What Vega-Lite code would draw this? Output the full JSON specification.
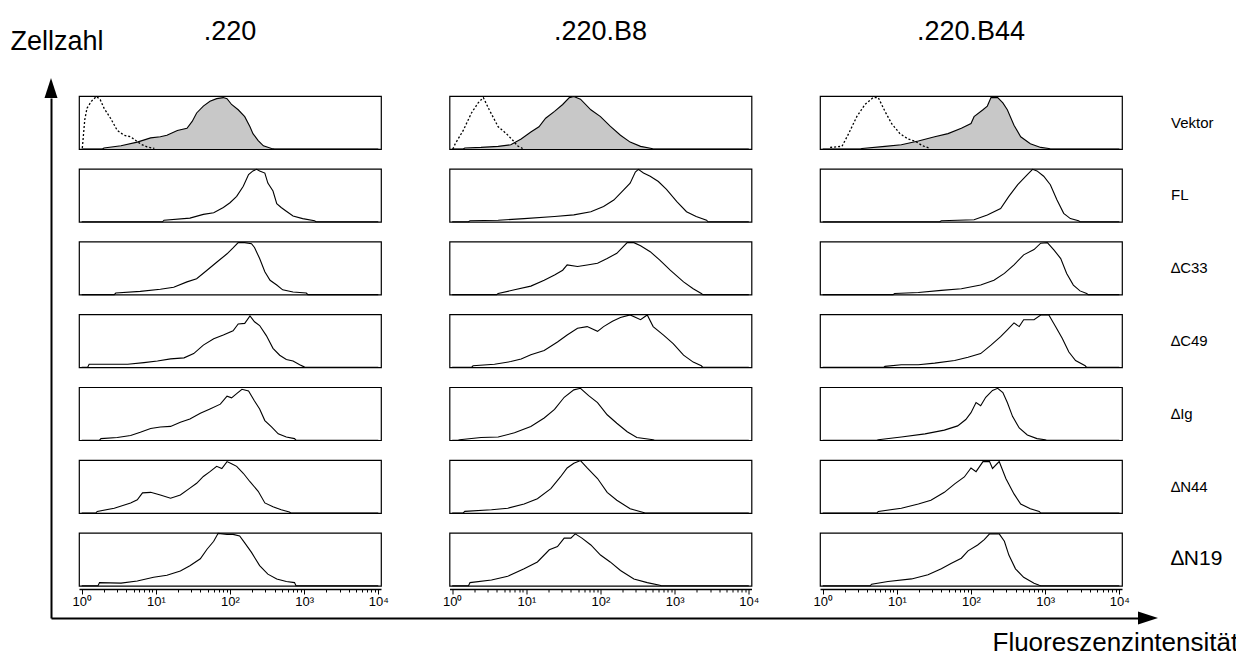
{
  "$schema": "https://vega.github.io/schema/vega-lite/v6.json",
  "background": "white",
  "padding": {"left": 10, "top": 18, "right": 0, "bottom": 0},
  "config": {"font": "Liberation Sans", "view": {"stroke": "black", "strokeWidth": 1.2}},
  "bounds": "flush",
  "spacing": 28,
  "hconcat": [
    {
      "bounds": "flush",
      "spacing": 0,
      "vconcat": [
        {"width": 10, "height": 2, "view": {"stroke": null}, "data": {"values": []}, "mark": "point"},
        {
          "width": 1087,
          "height": 520,
          "view": {"stroke": null},
          "data": {"values": [{"ax": 0, "ay": 1, "h": "y"}, {"ax": 1, "ay": 0, "h": "x"}]},
          "mark": {"type": "point", "filled": true, "fill": "black", "strokeWidth": 0, "opacity": 1, "size": 400},
          "encoding": {
            "x": {"field": "ax", "type": "quantitative", "scale": {"domain": [0, 1], "nice": false, "zero": false},
              "axis": {"orient": "bottom", "domain": true, "domainColor": "black", "domainWidth": 2, "ticks": false, "labels": false, "grid": false,
                "title": "Fluoreszenzintensität", "titleFontSize": 26, "titleFontWeight": "normal", "titleColor": "black",
                "titleAlign": "left", "titleBaseline": "alphabetic", "titleX": 941, "titleY": 32}},
            "y": {"field": "ay", "type": "quantitative", "scale": {"domain": [0, 1], "nice": false, "zero": false},
              "axis": {"orient": "left", "domain": true, "domainColor": "black", "domainWidth": 2, "ticks": false, "labels": false, "grid": false,
                "title": "Zellzahl", "titleFontSize": 27, "titleFontWeight": "normal", "titleColor": "black", "titleAngle": 0,
                "titleAlign": "left", "titleBaseline": "alphabetic", "titleX": -41, "titleY": -49}},
            "shape": {"field": "h", "type": "nominal", "scale": {"domain": ["y", "x"], "range": ["M0,-2L0.65,0L-0.65,0Z", "M2,0L0,-0.65L0,0.65Z"]}, "legend": null}
          }
        }
      ]
    },
    {
      "data": {"values": [
        {"c":".220","r":"Vektor","s":"n","x":1.02,"y":0.02},{"c":".220","r":"Vektor","s":"n","x":1.10,"y":0.55},{"c":".220","r":"Vektor","s":"n","x":1.18,"y":0.77},{"c":".220","r":"Vektor","s":"n","x":1.35,"y":0.9},{"c":".220","r":"Vektor","s":"n","x":1.58,"y":0.99},{"c":".220","r":"Vektor","s":"n","x":1.78,"y":0.93},{"c":".220","r":"Vektor","s":"n","x":2.0,"y":0.77},{"c":".220","r":"Vektor","s":"n","x":2.45,"y":0.58},{"c":".220","r":"Vektor","s":"n","x":3.02,"y":0.35},{"c":".220","r":"Vektor","s":"n","x":3.72,"y":0.26},{"c":".220","r":"Vektor","s":"n","x":4.57,"y":0.23},{"c":".220","r":"Vektor","s":"n","x":5.37,"y":0.16},{"c":".220","r":"Vektor","s":"n","x":6.31,"y":0.09},{"c":".220","r":"Vektor","s":"n","x":7.59,"y":0.04},{"c":".220","r":"Vektor","s":"n","x":9.55,"y":0.01},
        {"c":".220","r":"Vektor","s":"p","x":1,"y":0},{"c":".220","r":"Vektor","s":"p","x":1.91,"y":0},{"c":".220","r":"Vektor","s":"p","x":2.0,"y":0.02},{"c":".220","r":"Vektor","s":"p","x":3.39,"y":0.06},{"c":".220","r":"Vektor","s":"p","x":5.62,"y":0.13},{"c":".220","r":"Vektor","s":"p","x":8.51,"y":0.21},{"c":".220","r":"Vektor","s":"p","x":11.5,"y":0.23},{"c":".220","r":"Vektor","s":"p","x":14.1,"y":0.26},{"c":".220","r":"Vektor","s":"p","x":19.5,"y":0.35},{"c":".220","r":"Vektor","s":"p","x":26.3,"y":0.39},{"c":".220","r":"Vektor","s":"p","x":30.9,"y":0.52},{"c":".220","r":"Vektor","s":"p","x":35.5,"y":0.68},{"c":".220","r":"Vektor","s":"p","x":43.7,"y":0.81},{"c":".220","r":"Vektor","s":"p","x":53.7,"y":0.9},{"c":".220","r":"Vektor","s":"p","x":66.1,"y":0.95},{"c":".220","r":"Vektor","s":"p","x":81.3,"y":0.97},{"c":".220","r":"Vektor","s":"p","x":91.2,"y":0.95},{"c":".220","r":"Vektor","s":"p","x":105,"y":0.84},{"c":".220","r":"Vektor","s":"p","x":129,"y":0.74},{"c":".220","r":"Vektor","s":"p","x":158,"y":0.61},{"c":".220","r":"Vektor","s":"p","x":186,"y":0.42},{"c":".220","r":"Vektor","s":"p","x":204,"y":0.29},{"c":".220","r":"Vektor","s":"p","x":240,"y":0.16},{"c":".220","r":"Vektor","s":"p","x":282,"y":0.06},{"c":".220","r":"Vektor","s":"p","x":363,"y":0.01},{"c":".220","r":"Vektor","s":"p","x":398,"y":0},{"c":".220","r":"Vektor","s":"p","x":10000,"y":0},
        {"c":".220","r":"FL","s":"p","x":1,"y":0},{"c":".220","r":"FL","s":"p","x":12.3,"y":0},{"c":".220","r":"FL","s":"p","x":12.9,"y":0.03},{"c":".220","r":"FL","s":"p","x":28.8,"y":0.07},{"c":".220","r":"FL","s":"p","x":43.7,"y":0.14},{"c":".220","r":"FL","s":"p","x":60.3,"y":0.17},{"c":".220","r":"FL","s":"p","x":81.3,"y":0.27},{"c":".220","r":"FL","s":"p","x":100,"y":0.36},{"c":".220","r":"FL","s":"p","x":123,"y":0.48},{"c":".220","r":"FL","s":"p","x":151,"y":0.67},{"c":".220","r":"FL","s":"p","x":178,"y":0.89},{"c":".220","r":"FL","s":"p","x":204,"y":0.96},{"c":".220","r":"FL","s":"p","x":229,"y":0.99},{"c":".220","r":"FL","s":"p","x":251,"y":0.96},{"c":".220","r":"FL","s":"p","x":295,"y":0.92},{"c":".220","r":"FL","s":"p","x":324,"y":0.73},{"c":".220","r":"FL","s":"p","x":380,"y":0.58},{"c":".220","r":"FL","s":"p","x":427,"y":0.34},{"c":".220","r":"FL","s":"p","x":490,"y":0.27},{"c":".220","r":"FL","s":"p","x":575,"y":0.2},{"c":".220","r":"FL","s":"p","x":708,"y":0.11},{"c":".220","r":"FL","s":"p","x":955,"y":0.06},{"c":".220","r":"FL","s":"p","x":1380,"y":0.02},{"c":".220","r":"FL","s":"p","x":1445,"y":0},{"c":".220","r":"FL","s":"p","x":10000,"y":0},
        {"c":".220","r":"∆C33","s":"p","x":1,"y":0},{"c":".220","r":"∆C33","s":"p","x":2.75,"y":0},{"c":".220","r":"∆C33","s":"p","x":2.88,"y":0.03},{"c":".220","r":"∆C33","s":"p","x":6.17,"y":0.06},{"c":".220","r":"∆C33","s":"p","x":11.5,"y":0.1},{"c":".220","r":"∆C33","s":"p","x":17.4,"y":0.14},{"c":".220","r":"∆C33","s":"p","x":26.3,"y":0.24},{"c":".220","r":"∆C33","s":"p","x":35.5,"y":0.3},{"c":".220","r":"∆C33","s":"p","x":49.0,"y":0.46},{"c":".220","r":"∆C33","s":"p","x":66.1,"y":0.61},{"c":".220","r":"∆C33","s":"p","x":91.2,"y":0.77},{"c":".220","r":"∆C33","s":"p","x":110,"y":0.88},{"c":".220","r":"∆C33","s":"p","x":129,"y":0.98},{"c":".220","r":"∆C33","s":"p","x":158,"y":0.98},{"c":".220","r":"∆C33","s":"p","x":195,"y":0.96},{"c":".220","r":"∆C33","s":"p","x":214,"y":0.89},{"c":".220","r":"∆C33","s":"p","x":251,"y":0.68},{"c":".220","r":"∆C33","s":"p","x":295,"y":0.43},{"c":".220","r":"∆C33","s":"p","x":347,"y":0.27},{"c":".220","r":"∆C33","s":"p","x":427,"y":0.18},{"c":".220","r":"∆C33","s":"p","x":513,"y":0.09},{"c":".220","r":"∆C33","s":"p","x":708,"y":0.05},{"c":".220","r":"∆C33","s":"p","x":1070,"y":0.03},{"c":".220","r":"∆C33","s":"p","x":1122,"y":0},{"c":".220","r":"∆C33","s":"p","x":10000,"y":0},
        {"c":".220","r":"∆C49","s":"p","x":1,"y":0},{"c":".220","r":"∆C49","s":"p","x":1.2,"y":0},{"c":".220","r":"∆C49","s":"p","x":1.26,"y":0.06},{"c":".220","r":"∆C49","s":"p","x":2.45,"y":0.06},{"c":".220","r":"∆C49","s":"p","x":4.17,"y":0.06},{"c":".220","r":"∆C49","s":"p","x":6.92,"y":0.09},{"c":".220","r":"∆C49","s":"p","x":10.5,"y":0.12},{"c":".220","r":"∆C49","s":"p","x":15.8,"y":0.16},{"c":".220","r":"∆C49","s":"p","x":24.0,"y":0.18},{"c":".220","r":"∆C49","s":"p","x":32.4,"y":0.26},{"c":".220","r":"∆C49","s":"p","x":43.7,"y":0.42},{"c":".220","r":"∆C49","s":"p","x":60.3,"y":0.54},{"c":".220","r":"∆C49","s":"p","x":81.3,"y":0.61},{"c":".220","r":"∆C49","s":"p","x":110,"y":0.69},{"c":".220","r":"∆C49","s":"p","x":129,"y":0.82},{"c":".220","r":"∆C49","s":"p","x":158,"y":0.83},{"c":".220","r":"∆C49","s":"p","x":186,"y":0.97},{"c":".220","r":"∆C49","s":"p","x":214,"y":0.86},{"c":".220","r":"∆C49","s":"p","x":251,"y":0.79},{"c":".220","r":"∆C49","s":"p","x":309,"y":0.6},{"c":".220","r":"∆C49","s":"p","x":380,"y":0.36},{"c":".220","r":"∆C49","s":"p","x":468,"y":0.23},{"c":".220","r":"∆C49","s":"p","x":575,"y":0.15},{"c":".220","r":"∆C49","s":"p","x":708,"y":0.12},{"c":".220","r":"∆C49","s":"p","x":871,"y":0.05},{"c":".220","r":"∆C49","s":"p","x":1000,"y":0.01},{"c":".220","r":"∆C49","s":"p","x":1047,"y":0},{"c":".220","r":"∆C49","s":"p","x":10000,"y":0},
        {"c":".220","r":"∆Ig","s":"p","x":1,"y":0},{"c":".220","r":"∆Ig","s":"p","x":1.74,"y":0},{"c":".220","r":"∆Ig","s":"p","x":1.82,"y":0.03},{"c":".220","r":"∆Ig","s":"p","x":3.02,"y":0.05},{"c":".220","r":"∆Ig","s":"p","x":4.57,"y":0.09},{"c":".220","r":"∆Ig","s":"p","x":6.17,"y":0.15},{"c":".220","r":"∆Ig","s":"p","x":8.51,"y":0.22},{"c":".220","r":"∆Ig","s":"p","x":11.5,"y":0.25},{"c":".220","r":"∆Ig","s":"p","x":15.8,"y":0.26},{"c":".220","r":"∆Ig","s":"p","x":21.4,"y":0.34},{"c":".220","r":"∆Ig","s":"p","x":28.8,"y":0.4},{"c":".220","r":"∆Ig","s":"p","x":39.8,"y":0.51},{"c":".220","r":"∆Ig","s":"p","x":53.7,"y":0.59},{"c":".220","r":"∆Ig","s":"p","x":74.1,"y":0.68},{"c":".220","r":"∆Ig","s":"p","x":91.2,"y":0.83},{"c":".220","r":"∆Ig","s":"p","x":105,"y":0.8},{"c":".220","r":"∆Ig","s":"p","x":123,"y":0.88},{"c":".220","r":"∆Ig","s":"p","x":145,"y":0.96},{"c":".220","r":"∆Ig","s":"p","x":178,"y":0.93},{"c":".220","r":"∆Ig","s":"p","x":214,"y":0.74},{"c":".220","r":"∆Ig","s":"p","x":251,"y":0.59},{"c":".220","r":"∆Ig","s":"p","x":295,"y":0.37},{"c":".220","r":"∆Ig","s":"p","x":363,"y":0.25},{"c":".220","r":"∆Ig","s":"p","x":447,"y":0.12},{"c":".220","r":"∆Ig","s":"p","x":575,"y":0.06},{"c":".220","r":"∆Ig","s":"p","x":741,"y":0.03},{"c":".220","r":"∆Ig","s":"p","x":776,"y":0},{"c":".220","r":"∆Ig","s":"p","x":10000,"y":0},
        {"c":".220","r":"∆N44","s":"p","x":1,"y":0},{"c":".220","r":"∆N44","s":"p","x":1.55,"y":0},{"c":".220","r":"∆N44","s":"p","x":1.62,"y":0.03},{"c":".220","r":"∆N44","s":"p","x":2.75,"y":0.09},{"c":".220","r":"∆N44","s":"p","x":4.57,"y":0.19},{"c":".220","r":"∆N44","s":"p","x":5.62,"y":0.25},{"c":".220","r":"∆N44","s":"p","x":6.61,"y":0.38},{"c":".220","r":"∆N44","s":"p","x":8.51,"y":0.39},{"c":".220","r":"∆N44","s":"p","x":11.5,"y":0.34},{"c":".220","r":"∆N44","s":"p","x":15.8,"y":0.28},{"c":".220","r":"∆N44","s":"p","x":21.4,"y":0.34},{"c":".220","r":"∆N44","s":"p","x":28.8,"y":0.47},{"c":".220","r":"∆N44","s":"p","x":35.5,"y":0.56},{"c":".220","r":"∆N44","s":"p","x":43.7,"y":0.69},{"c":".220","r":"∆N44","s":"p","x":53.7,"y":0.78},{"c":".220","r":"∆N44","s":"p","x":66.1,"y":0.88},{"c":".220","r":"∆N44","s":"p","x":77.6,"y":0.84},{"c":".220","r":"∆N44","s":"p","x":91.2,"y":0.97},{"c":".220","r":"∆N44","s":"p","x":105,"y":0.93},{"c":".220","r":"∆N44","s":"p","x":123,"y":0.88},{"c":".220","r":"∆N44","s":"p","x":151,"y":0.75},{"c":".220","r":"∆N44","s":"p","x":186,"y":0.59},{"c":".220","r":"∆N44","s":"p","x":240,"y":0.41},{"c":".220","r":"∆N44","s":"p","x":295,"y":0.19},{"c":".220","r":"∆N44","s":"p","x":380,"y":0.12},{"c":".220","r":"∆N44","s":"p","x":490,"y":0.06},{"c":".220","r":"∆N44","s":"p","x":631,"y":0.02},{"c":".220","r":"∆N44","s":"p","x":661,"y":0},{"c":".220","r":"∆N44","s":"p","x":10000,"y":0},
        {"c":".220","r":"∆N19","s":"p","x":1,"y":0},{"c":".220","r":"∆N19","s":"p","x":1.66,"y":0},{"c":".220","r":"∆N19","s":"p","x":1.74,"y":0.06},{"c":".220","r":"∆N19","s":"p","x":3.39,"y":0.05},{"c":".220","r":"∆N19","s":"p","x":5.62,"y":0.09},{"c":".220","r":"∆N19","s":"p","x":9.33,"y":0.16},{"c":".220","r":"∆N19","s":"p","x":14.1,"y":0.2},{"c":".220","r":"∆N19","s":"p","x":21.4,"y":0.28},{"c":".220","r":"∆N19","s":"p","x":28.8,"y":0.38},{"c":".220","r":"∆N19","s":"p","x":39.8,"y":0.51},{"c":".220","r":"∆N19","s":"p","x":49.0,"y":0.69},{"c":".220","r":"∆N19","s":"p","x":60.3,"y":0.84},{"c":".220","r":"∆N19","s":"p","x":69.2,"y":0.99},{"c":".220","r":"∆N19","s":"p","x":91.2,"y":0.97},{"c":".220","r":"∆N19","s":"p","x":110,"y":0.97},{"c":".220","r":"∆N19","s":"p","x":135,"y":0.94},{"c":".220","r":"∆N19","s":"p","x":158,"y":0.81},{"c":".220","r":"∆N19","s":"p","x":195,"y":0.63},{"c":".220","r":"∆N19","s":"p","x":251,"y":0.38},{"c":".220","r":"∆N19","s":"p","x":324,"y":0.22},{"c":".220","r":"∆N19","s":"p","x":427,"y":0.13},{"c":".220","r":"∆N19","s":"p","x":575,"y":0.08},{"c":".220","r":"∆N19","s":"p","x":741,"y":0.06},{"c":".220","r":"∆N19","s":"p","x":776,"y":0},{"c":".220","r":"∆N19","s":"p","x":10000,"y":0},

        {"c":".220.B8","r":"Vektor","s":"n","x":1.02,"y":0},{"c":".220.B8","r":"Vektor","s":"n","x":1.10,"y":0.1},{"c":".220.B8","r":"Vektor","s":"n","x":1.41,"y":0.35},{"c":".220.B8","r":"Vektor","s":"n","x":1.82,"y":0.68},{"c":".220.B8","r":"Vektor","s":"n","x":2.24,"y":0.87},{"c":".220.B8","r":"Vektor","s":"n","x":2.63,"y":0.97},{"c":".220.B8","r":"Vektor","s":"n","x":3.16,"y":0.74},{"c":".220.B8","r":"Vektor","s":"n","x":4.17,"y":0.42},{"c":".220.B8","r":"Vektor","s":"n","x":5.37,"y":0.29},{"c":".220.B8","r":"Vektor","s":"n","x":6.61,"y":0.16},{"c":".220.B8","r":"Vektor","s":"n","x":7.59,"y":0.06},{"c":".220.B8","r":"Vektor","s":"n","x":8.91,"y":0.01},
        {"c":".220.B8","r":"Vektor","s":"p","x":1,"y":0},{"c":".220.B8","r":"Vektor","s":"p","x":1.41,"y":0},{"c":".220.B8","r":"Vektor","s":"p","x":1.48,"y":0.02},{"c":".220.B8","r":"Vektor","s":"p","x":2.45,"y":0.03},{"c":".220.B8","r":"Vektor","s":"p","x":4.17,"y":0.05},{"c":".220.B8","r":"Vektor","s":"p","x":6.17,"y":0.08},{"c":".220.B8","r":"Vektor","s":"p","x":8.51,"y":0.19},{"c":".220.B8","r":"Vektor","s":"p","x":11.5,"y":0.32},{"c":".220.B8","r":"Vektor","s":"p","x":14.8,"y":0.42},{"c":".220.B8","r":"Vektor","s":"p","x":18.2,"y":0.58},{"c":".220.B8","r":"Vektor","s":"p","x":24.0,"y":0.71},{"c":".220.B8","r":"Vektor","s":"p","x":30.9,"y":0.84},{"c":".220.B8","r":"Vektor","s":"p","x":38.0,"y":0.97},{"c":".220.B8","r":"Vektor","s":"p","x":43.7,"y":0.99},{"c":".220.B8","r":"Vektor","s":"p","x":53.7,"y":0.94},{"c":".220.B8","r":"Vektor","s":"p","x":74.1,"y":0.74},{"c":".220.B8","r":"Vektor","s":"p","x":100,"y":0.61},{"c":".220.B8","r":"Vektor","s":"p","x":135,"y":0.43},{"c":".220.B8","r":"Vektor","s":"p","x":186,"y":0.26},{"c":".220.B8","r":"Vektor","s":"p","x":251,"y":0.13},{"c":".220.B8","r":"Vektor","s":"p","x":347,"y":0.05},{"c":".220.B8","r":"Vektor","s":"p","x":490,"y":0.01},{"c":".220.B8","r":"Vektor","s":"p","x":513,"y":0},{"c":".220.B8","r":"Vektor","s":"p","x":10000,"y":0},
        {"c":".220.B8","r":"FL","s":"p","x":1,"y":0},{"c":".220.B8","r":"FL","s":"p","x":1.66,"y":0},{"c":".220.B8","r":"FL","s":"p","x":1.74,"y":0.02},{"c":".220.B8","r":"FL","s":"p","x":4.17,"y":0.03},{"c":".220.B8","r":"FL","s":"p","x":9.33,"y":0.06},{"c":".220.B8","r":"FL","s":"p","x":24.0,"y":0.1},{"c":".220.B8","r":"FL","s":"p","x":43.7,"y":0.13},{"c":".220.B8","r":"FL","s":"p","x":74.1,"y":0.19},{"c":".220.B8","r":"FL","s":"p","x":110,"y":0.29},{"c":".220.B8","r":"FL","s":"p","x":151,"y":0.41},{"c":".220.B8","r":"FL","s":"p","x":195,"y":0.57},{"c":".220.B8","r":"FL","s":"p","x":251,"y":0.73},{"c":".220.B8","r":"FL","s":"p","x":295,"y":0.94},{"c":".220.B8","r":"FL","s":"p","x":324,"y":0.99},{"c":".220.B8","r":"FL","s":"p","x":380,"y":0.92},{"c":".220.B8","r":"FL","s":"p","x":468,"y":0.86},{"c":".220.B8","r":"FL","s":"p","x":603,"y":0.76},{"c":".220.B8","r":"FL","s":"p","x":776,"y":0.61},{"c":".220.B8","r":"FL","s":"p","x":1070,"y":0.38},{"c":".220.B8","r":"FL","s":"p","x":1445,"y":0.19},{"c":".220.B8","r":"FL","s":"p","x":1950,"y":0.1},{"c":".220.B8","r":"FL","s":"p","x":2692,"y":0.03},{"c":".220.B8","r":"FL","s":"p","x":2818,"y":0},{"c":".220.B8","r":"FL","s":"p","x":10000,"y":0},
        {"c":".220.B8","r":"∆C33","s":"p","x":1,"y":0},{"c":".220.B8","r":"∆C33","s":"p","x":3.98,"y":0},{"c":".220.B8","r":"∆C33","s":"p","x":4.17,"y":0.02},{"c":".220.B8","r":"∆C33","s":"p","x":6.92,"y":0.09},{"c":".220.B8","r":"∆C33","s":"p","x":11.5,"y":0.16},{"c":".220.B8","r":"∆C33","s":"p","x":17.4,"y":0.27},{"c":".220.B8","r":"∆C33","s":"p","x":24.0,"y":0.37},{"c":".220.B8","r":"∆C33","s":"p","x":30.9,"y":0.46},{"c":".220.B8","r":"∆C33","s":"p","x":35.5,"y":0.56},{"c":".220.B8","r":"∆C33","s":"p","x":49.0,"y":0.53},{"c":".220.B8","r":"∆C33","s":"p","x":66.1,"y":0.56},{"c":".220.B8","r":"∆C33","s":"p","x":91.2,"y":0.59},{"c":".220.B8","r":"∆C33","s":"p","x":123,"y":0.68},{"c":".220.B8","r":"∆C33","s":"p","x":166,"y":0.78},{"c":".220.B8","r":"∆C33","s":"p","x":229,"y":0.98},{"c":".220.B8","r":"∆C33","s":"p","x":282,"y":0.98},{"c":".220.B8","r":"∆C33","s":"p","x":347,"y":0.92},{"c":".220.B8","r":"∆C33","s":"p","x":468,"y":0.81},{"c":".220.B8","r":"∆C33","s":"p","x":631,"y":0.65},{"c":".220.B8","r":"∆C33","s":"p","x":871,"y":0.46},{"c":".220.B8","r":"∆C33","s":"p","x":1318,"y":0.24},{"c":".220.B8","r":"∆C33","s":"p","x":1778,"y":0.11},{"c":".220.B8","r":"∆C33","s":"p","x":2291,"y":0.02},{"c":".220.B8","r":"∆C33","s":"p","x":2399,"y":0},{"c":".220.B8","r":"∆C33","s":"p","x":10000,"y":0},
        {"c":".220.B8","r":"∆C49","s":"p","x":1,"y":0},{"c":".220.B8","r":"∆C49","s":"p","x":1.82,"y":0},{"c":".220.B8","r":"∆C49","s":"p","x":1.91,"y":0.03},{"c":".220.B8","r":"∆C49","s":"p","x":3.72,"y":0.06},{"c":".220.B8","r":"∆C49","s":"p","x":6.17,"y":0.11},{"c":".220.B8","r":"∆C49","s":"p","x":8.51,"y":0.16},{"c":".220.B8","r":"∆C49","s":"p","x":11.5,"y":0.24},{"c":".220.B8","r":"∆C49","s":"p","x":17.4,"y":0.32},{"c":".220.B8","r":"∆C49","s":"p","x":26.3,"y":0.48},{"c":".220.B8","r":"∆C49","s":"p","x":35.5,"y":0.61},{"c":".220.B8","r":"∆C49","s":"p","x":49.0,"y":0.74},{"c":".220.B8","r":"∆C49","s":"p","x":66.1,"y":0.77},{"c":".220.B8","r":"∆C49","s":"p","x":91.2,"y":0.68},{"c":".220.B8","r":"∆C49","s":"p","x":110,"y":0.77},{"c":".220.B8","r":"∆C49","s":"p","x":145,"y":0.87},{"c":".220.B8","r":"∆C49","s":"p","x":186,"y":0.94},{"c":".220.B8","r":"∆C49","s":"p","x":251,"y":0.99},{"c":".220.B8","r":"∆C49","s":"p","x":347,"y":0.9},{"c":".220.B8","r":"∆C49","s":"p","x":427,"y":0.99},{"c":".220.B8","r":"∆C49","s":"p","x":513,"y":0.77},{"c":".220.B8","r":"∆C49","s":"p","x":708,"y":0.61},{"c":".220.B8","r":"∆C49","s":"p","x":955,"y":0.45},{"c":".220.B8","r":"∆C49","s":"p","x":1318,"y":0.23},{"c":".220.B8","r":"∆C49","s":"p","x":1778,"y":0.1},{"c":".220.B8","r":"∆C49","s":"p","x":2291,"y":0.03},{"c":".220.B8","r":"∆C49","s":"p","x":2399,"y":0},{"c":".220.B8","r":"∆C49","s":"p","x":10000,"y":0},
        {"c":".220.B8","r":"∆Ig","s":"p","x":1,"y":0},{"c":".220.B8","r":"∆Ig","s":"p","x":1.2,"y":0},{"c":".220.B8","r":"∆Ig","s":"p","x":1.26,"y":0.01},{"c":".220.B8","r":"∆Ig","s":"p","x":2.45,"y":0.05},{"c":".220.B8","r":"∆Ig","s":"p","x":4.17,"y":0.06},{"c":".220.B8","r":"∆Ig","s":"p","x":6.92,"y":0.14},{"c":".220.B8","r":"∆Ig","s":"p","x":11.5,"y":0.26},{"c":".220.B8","r":"∆Ig","s":"p","x":17.4,"y":0.42},{"c":".220.B8","r":"∆Ig","s":"p","x":24.0,"y":0.58},{"c":".220.B8","r":"∆Ig","s":"p","x":32.4,"y":0.81},{"c":".220.B8","r":"∆Ig","s":"p","x":43.7,"y":0.95},{"c":".220.B8","r":"∆Ig","s":"p","x":53.7,"y":0.98},{"c":".220.B8","r":"∆Ig","s":"p","x":69.2,"y":0.84},{"c":".220.B8","r":"∆Ig","s":"p","x":91.2,"y":0.71},{"c":".220.B8","r":"∆Ig","s":"p","x":123,"y":0.48},{"c":".220.B8","r":"∆Ig","s":"p","x":166,"y":0.32},{"c":".220.B8","r":"∆Ig","s":"p","x":229,"y":0.16},{"c":".220.B8","r":"∆Ig","s":"p","x":309,"y":0.05},{"c":".220.B8","r":"∆Ig","s":"p","x":513,"y":0.01},{"c":".220.B8","r":"∆Ig","s":"p","x":537,"y":0},{"c":".220.B8","r":"∆Ig","s":"p","x":10000,"y":0},
        {"c":".220.B8","r":"∆N44","s":"p","x":1,"y":0},{"c":".220.B8","r":"∆N44","s":"p","x":1.41,"y":0},{"c":".220.B8","r":"∆N44","s":"p","x":1.48,"y":0.03},{"c":".220.B8","r":"∆N44","s":"p","x":3.39,"y":0.06},{"c":".220.B8","r":"∆N44","s":"p","x":5.62,"y":0.09},{"c":".220.B8","r":"∆N44","s":"p","x":9.33,"y":0.17},{"c":".220.B8","r":"∆N44","s":"p","x":14.1,"y":0.27},{"c":".220.B8","r":"∆N44","s":"p","x":21.4,"y":0.46},{"c":".220.B8","r":"∆N44","s":"p","x":28.8,"y":0.68},{"c":".220.B8","r":"∆N44","s":"p","x":35.5,"y":0.85},{"c":".220.B8","r":"∆N44","s":"p","x":43.7,"y":0.94},{"c":".220.B8","r":"∆N44","s":"p","x":53.7,"y":0.99},{"c":".220.B8","r":"∆N44","s":"p","x":66.1,"y":0.85},{"c":".220.B8","r":"∆N44","s":"p","x":91.2,"y":0.65},{"c":".220.B8","r":"∆N44","s":"p","x":123,"y":0.39},{"c":".220.B8","r":"∆N44","s":"p","x":166,"y":0.24},{"c":".220.B8","r":"∆N44","s":"p","x":251,"y":0.08},{"c":".220.B8","r":"∆N44","s":"p","x":380,"y":0.01},{"c":".220.B8","r":"∆N44","s":"p","x":398,"y":0},{"c":".220.B8","r":"∆N44","s":"p","x":10000,"y":0},
        {"c":".220.B8","r":"∆N19","s":"p","x":1,"y":0},{"c":".220.B8","r":"∆N19","s":"p","x":1.66,"y":0},{"c":".220.B8","r":"∆N19","s":"p","x":1.74,"y":0.06},{"c":".220.B8","r":"∆N19","s":"p","x":3.39,"y":0.11},{"c":".220.B8","r":"∆N19","s":"p","x":5.62,"y":0.18},{"c":".220.B8","r":"∆N19","s":"p","x":9.33,"y":0.32},{"c":".220.B8","r":"∆N19","s":"p","x":14.1,"y":0.45},{"c":".220.B8","r":"∆N19","s":"p","x":20.4,"y":0.68},{"c":".220.B8","r":"∆N19","s":"p","x":26.3,"y":0.74},{"c":".220.B8","r":"∆N19","s":"p","x":32.4,"y":0.9},{"c":".220.B8","r":"∆N19","s":"p","x":39.8,"y":0.9},{"c":".220.B8","r":"∆N19","s":"p","x":45.7,"y":0.98},{"c":".220.B8","r":"∆N19","s":"p","x":56.2,"y":0.9},{"c":".220.B8","r":"∆N19","s":"p","x":74.1,"y":0.77},{"c":".220.B8","r":"∆N19","s":"p","x":100,"y":0.58},{"c":".220.B8","r":"∆N19","s":"p","x":135,"y":0.45},{"c":".220.B8","r":"∆N19","s":"p","x":186,"y":0.29},{"c":".220.B8","r":"∆N19","s":"p","x":282,"y":0.13},{"c":".220.B8","r":"∆N19","s":"p","x":427,"y":0.06},{"c":".220.B8","r":"∆N19","s":"p","x":631,"y":0.01},{"c":".220.B8","r":"∆N19","s":"p","x":661,"y":0},{"c":".220.B8","r":"∆N19","s":"p","x":10000,"y":0},

        {"c":".220.B44","r":"Vektor","s":"n","x":1.26,"y":0.03},{"c":".220.B44","r":"Vektor","s":"n","x":1.82,"y":0.05},{"c":".220.B44","r":"Vektor","s":"n","x":2.24,"y":0.29},{"c":".220.B44","r":"Vektor","s":"n","x":2.88,"y":0.61},{"c":".220.B44","r":"Vektor","s":"n","x":3.72,"y":0.84},{"c":".220.B44","r":"Vektor","s":"n","x":4.79,"y":0.97},{"c":".220.B44","r":"Vektor","s":"n","x":5.62,"y":0.97},{"c":".220.B44","r":"Vektor","s":"n","x":6.92,"y":0.71},{"c":".220.B44","r":"Vektor","s":"n","x":8.51,"y":0.48},{"c":".220.B44","r":"Vektor","s":"n","x":11.0,"y":0.29},{"c":".220.B44","r":"Vektor","s":"n","x":14.1,"y":0.19},{"c":".220.B44","r":"Vektor","s":"n","x":17.4,"y":0.15},{"c":".220.B44","r":"Vektor","s":"n","x":22.4,"y":0.06},{"c":".220.B44","r":"Vektor","s":"n","x":28.2,"y":0.01},
        {"c":".220.B44","r":"Vektor","s":"p","x":1,"y":0},{"c":".220.B44","r":"Vektor","s":"p","x":3.24,"y":0},{"c":".220.B44","r":"Vektor","s":"p","x":3.39,"y":0.01},{"c":".220.B44","r":"Vektor","s":"p","x":6.92,"y":0.05},{"c":".220.B44","r":"Vektor","s":"p","x":11.5,"y":0.08},{"c":".220.B44","r":"Vektor","s":"p","x":19.5,"y":0.15},{"c":".220.B44","r":"Vektor","s":"p","x":32.4,"y":0.23},{"c":".220.B44","r":"Vektor","s":"p","x":49.0,"y":0.29},{"c":".220.B44","r":"Vektor","s":"p","x":74.1,"y":0.39},{"c":".220.B44","r":"Vektor","s":"p","x":100,"y":0.48},{"c":".220.B44","r":"Vektor","s":"p","x":110,"y":0.61},{"c":".220.B44","r":"Vektor","s":"p","x":145,"y":0.74},{"c":".220.B44","r":"Vektor","s":"p","x":166,"y":0.81},{"c":".220.B44","r":"Vektor","s":"p","x":186,"y":0.97},{"c":".220.B44","r":"Vektor","s":"p","x":229,"y":0.97},{"c":".220.B44","r":"Vektor","s":"p","x":269,"y":0.87},{"c":".220.B44","r":"Vektor","s":"p","x":309,"y":0.74},{"c":".220.B44","r":"Vektor","s":"p","x":380,"y":0.45},{"c":".220.B44","r":"Vektor","s":"p","x":468,"y":0.23},{"c":".220.B44","r":"Vektor","s":"p","x":631,"y":0.1},{"c":".220.B44","r":"Vektor","s":"p","x":871,"y":0.03},{"c":".220.B44","r":"Vektor","s":"p","x":1122,"y":0.01},{"c":".220.B44","r":"Vektor","s":"p","x":1175,"y":0},{"c":".220.B44","r":"Vektor","s":"p","x":10000,"y":0},
        {"c":".220.B44","r":"FL","s":"p","x":1,"y":0},{"c":".220.B44","r":"FL","s":"p","x":38.0,"y":0},{"c":".220.B44","r":"FL","s":"p","x":39.8,"y":0.02},{"c":".220.B44","r":"FL","s":"p","x":110,"y":0.04},{"c":".220.B44","r":"FL","s":"p","x":166,"y":0.13},{"c":".220.B44","r":"FL","s":"p","x":251,"y":0.25},{"c":".220.B44","r":"FL","s":"p","x":324,"y":0.48},{"c":".220.B44","r":"FL","s":"p","x":427,"y":0.7},{"c":".220.B44","r":"FL","s":"p","x":575,"y":0.89},{"c":".220.B44","r":"FL","s":"p","x":676,"y":0.99},{"c":".220.B44","r":"FL","s":"p","x":776,"y":0.96},{"c":".220.B44","r":"FL","s":"p","x":955,"y":0.86},{"c":".220.B44","r":"FL","s":"p","x":1175,"y":0.7},{"c":".220.B44","r":"FL","s":"p","x":1445,"y":0.41},{"c":".220.B44","r":"FL","s":"p","x":1778,"y":0.16},{"c":".220.B44","r":"FL","s":"p","x":2188,"y":0.06},{"c":".220.B44","r":"FL","s":"p","x":2818,"y":0.02},{"c":".220.B44","r":"FL","s":"p","x":2951,"y":0},{"c":".220.B44","r":"FL","s":"p","x":10000,"y":0},
        {"c":".220.B44","r":"∆C33","s":"p","x":1,"y":0},{"c":".220.B44","r":"∆C33","s":"p","x":8.91,"y":0},{"c":".220.B44","r":"∆C33","s":"p","x":9.33,"y":0.02},{"c":".220.B44","r":"∆C33","s":"p","x":19.5,"y":0.04},{"c":".220.B44","r":"∆C33","s":"p","x":39.8,"y":0.08},{"c":".220.B44","r":"∆C33","s":"p","x":74.1,"y":0.11},{"c":".220.B44","r":"∆C33","s":"p","x":135,"y":0.18},{"c":".220.B44","r":"∆C33","s":"p","x":204,"y":0.27},{"c":".220.B44","r":"∆C33","s":"p","x":282,"y":0.4},{"c":".220.B44","r":"∆C33","s":"p","x":380,"y":0.56},{"c":".220.B44","r":"∆C33","s":"p","x":513,"y":0.75},{"c":".220.B44","r":"∆C33","s":"p","x":708,"y":0.85},{"c":".220.B44","r":"∆C33","s":"p","x":871,"y":0.97},{"c":".220.B44","r":"∆C33","s":"p","x":1070,"y":0.98},{"c":".220.B44","r":"∆C33","s":"p","x":1318,"y":0.84},{"c":".220.B44","r":"∆C33","s":"p","x":1622,"y":0.68},{"c":".220.B44","r":"∆C33","s":"p","x":1950,"y":0.4},{"c":".220.B44","r":"∆C33","s":"p","x":2399,"y":0.18},{"c":".220.B44","r":"∆C33","s":"p","x":2951,"y":0.07},{"c":".220.B44","r":"∆C33","s":"p","x":3631,"y":0.02},{"c":".220.B44","r":"∆C33","s":"p","x":3802,"y":0},{"c":".220.B44","r":"∆C33","s":"p","x":10000,"y":0},
        {"c":".220.B44","r":"∆C49","s":"p","x":1,"y":0},{"c":".220.B44","r":"∆C49","s":"p","x":6.61,"y":0},{"c":".220.B44","r":"∆C49","s":"p","x":6.92,"y":0.02},{"c":".220.B44","r":"∆C49","s":"p","x":11.5,"y":0.05},{"c":".220.B44","r":"∆C49","s":"p","x":19.5,"y":0.05},{"c":".220.B44","r":"∆C49","s":"p","x":32.4,"y":0.08},{"c":".220.B44","r":"∆C49","s":"p","x":60.3,"y":0.13},{"c":".220.B44","r":"∆C49","s":"p","x":91.2,"y":0.19},{"c":".220.B44","r":"∆C49","s":"p","x":135,"y":0.26},{"c":".220.B44","r":"∆C49","s":"p","x":186,"y":0.42},{"c":".220.B44","r":"∆C49","s":"p","x":251,"y":0.58},{"c":".220.B44","r":"∆C49","s":"p","x":309,"y":0.71},{"c":".220.B44","r":"∆C49","s":"p","x":380,"y":0.84},{"c":".220.B44","r":"∆C49","s":"p","x":447,"y":0.77},{"c":".220.B44","r":"∆C49","s":"p","x":513,"y":0.9},{"c":".220.B44","r":"∆C49","s":"p","x":708,"y":0.9},{"c":".220.B44","r":"∆C49","s":"p","x":871,"y":0.99},{"c":".220.B44","r":"∆C49","s":"p","x":1122,"y":0.99},{"c":".220.B44","r":"∆C49","s":"p","x":1380,"y":0.77},{"c":".220.B44","r":"∆C49","s":"p","x":1698,"y":0.55},{"c":".220.B44","r":"∆C49","s":"p","x":2089,"y":0.29},{"c":".220.B44","r":"∆C49","s":"p","x":2570,"y":0.13},{"c":".220.B44","r":"∆C49","s":"p","x":3467,"y":0.03},{"c":".220.B44","r":"∆C49","s":"p","x":3631,"y":0},{"c":".220.B44","r":"∆C49","s":"p","x":10000,"y":0},
        {"c":".220.B44","r":"∆Ig","s":"p","x":1,"y":0},{"c":".220.B44","r":"∆Ig","s":"p","x":5.37,"y":0},{"c":".220.B44","r":"∆Ig","s":"p","x":5.62,"y":0.01},{"c":".220.B44","r":"∆Ig","s":"p","x":11.5,"y":0.06},{"c":".220.B44","r":"∆Ig","s":"p","x":24.0,"y":0.12},{"c":".220.B44","r":"∆Ig","s":"p","x":43.7,"y":0.19},{"c":".220.B44","r":"∆Ig","s":"p","x":66.1,"y":0.27},{"c":".220.B44","r":"∆Ig","s":"p","x":85.1,"y":0.39},{"c":".220.B44","r":"∆Ig","s":"p","x":100,"y":0.52},{"c":".220.B44","r":"∆Ig","s":"p","x":117,"y":0.71},{"c":".220.B44","r":"∆Ig","s":"p","x":135,"y":0.65},{"c":".220.B44","r":"∆Ig","s":"p","x":158,"y":0.81},{"c":".220.B44","r":"∆Ig","s":"p","x":195,"y":0.94},{"c":".220.B44","r":"∆Ig","s":"p","x":229,"y":0.98},{"c":".220.B44","r":"∆Ig","s":"p","x":269,"y":0.9},{"c":".220.B44","r":"∆Ig","s":"p","x":309,"y":0.71},{"c":".220.B44","r":"∆Ig","s":"p","x":363,"y":0.45},{"c":".220.B44","r":"∆Ig","s":"p","x":447,"y":0.23},{"c":".220.B44","r":"∆Ig","s":"p","x":575,"y":0.1},{"c":".220.B44","r":"∆Ig","s":"p","x":776,"y":0.03},{"c":".220.B44","r":"∆Ig","s":"p","x":1000,"y":0.01},{"c":".220.B44","r":"∆Ig","s":"p","x":1047,"y":0},{"c":".220.B44","r":"∆Ig","s":"p","x":10000,"y":0},
        {"c":".220.B44","r":"∆N44","s":"p","x":1,"y":0},{"c":".220.B44","r":"∆N44","s":"p","x":5.37,"y":0},{"c":".220.B44","r":"∆N44","s":"p","x":5.62,"y":0.03},{"c":".220.B44","r":"∆N44","s":"p","x":11.5,"y":0.09},{"c":".220.B44","r":"∆N44","s":"p","x":19.5,"y":0.17},{"c":".220.B44","r":"∆N44","s":"p","x":28.8,"y":0.24},{"c":".220.B44","r":"∆N44","s":"p","x":43.7,"y":0.39},{"c":".220.B44","r":"∆N44","s":"p","x":60.3,"y":0.55},{"c":".220.B44","r":"∆N44","s":"p","x":81.3,"y":0.68},{"c":".220.B44","r":"∆N44","s":"p","x":100,"y":0.85},{"c":".220.B44","r":"∆N44","s":"p","x":117,"y":0.78},{"c":".220.B44","r":"∆N44","s":"p","x":145,"y":0.97},{"c":".220.B44","r":"∆N44","s":"p","x":178,"y":0.97},{"c":".220.B44","r":"∆N44","s":"p","x":195,"y":0.84},{"c":".220.B44","r":"∆N44","s":"p","x":240,"y":0.97},{"c":".220.B44","r":"∆N44","s":"p","x":295,"y":0.65},{"c":".220.B44","r":"∆N44","s":"p","x":380,"y":0.36},{"c":".220.B44","r":"∆N44","s":"p","x":468,"y":0.17},{"c":".220.B44","r":"∆N44","s":"p","x":631,"y":0.08},{"c":".220.B44","r":"∆N44","s":"p","x":832,"y":0.03},{"c":".220.B44","r":"∆N44","s":"p","x":871,"y":0},{"c":".220.B44","r":"∆N44","s":"p","x":10000,"y":0},
        {"c":".220.B44","r":"∆N19","s":"p","x":1,"y":0},{"c":".220.B44","r":"∆N19","s":"p","x":4.37,"y":0},{"c":".220.B44","r":"∆N19","s":"p","x":4.57,"y":0.03},{"c":".220.B44","r":"∆N19","s":"p","x":7.59,"y":0.08},{"c":".220.B44","r":"∆N19","s":"p","x":15.8,"y":0.13},{"c":".220.B44","r":"∆N19","s":"p","x":26.3,"y":0.21},{"c":".220.B44","r":"∆N19","s":"p","x":39.8,"y":0.32},{"c":".220.B44","r":"∆N19","s":"p","x":53.7,"y":0.42},{"c":".220.B44","r":"∆N19","s":"p","x":74.1,"y":0.52},{"c":".220.B44","r":"∆N19","s":"p","x":91.2,"y":0.66},{"c":".220.B44","r":"∆N19","s":"p","x":123,"y":0.77},{"c":".220.B44","r":"∆N19","s":"p","x":151,"y":0.87},{"c":".220.B44","r":"∆N19","s":"p","x":178,"y":0.98},{"c":".220.B44","r":"∆N19","s":"p","x":240,"y":0.98},{"c":".220.B44","r":"∆N19","s":"p","x":282,"y":0.84},{"c":".220.B44","r":"∆N19","s":"p","x":324,"y":0.58},{"c":".220.B44","r":"∆N19","s":"p","x":398,"y":0.32},{"c":".220.B44","r":"∆N19","s":"p","x":513,"y":0.16},{"c":".220.B44","r":"∆N19","s":"p","x":708,"y":0.05},{"c":".220.B44","r":"∆N19","s":"p","x":832,"y":0.01},{"c":".220.B44","r":"∆N19","s":"p","x":871,"y":0},{"c":".220.B44","r":"∆N19","s":"p","x":10000,"y":0}
      ]},
      "facet": {
        "row": {"field": "r", "type": "nominal", "title": null, "sort": ["Vektor", "FL", "∆C33", "∆C49", "∆Ig", "∆N44", "∆N19"],
          "header": {"title": null, "labelOrient": "right", "labelAngle": 0, "labelAlign": "right", "labelPadding": 48,
            "labelFontSize": {"expr": "parent['r'] == '∆N19' ? 21 : 15"}, "labelColor": "black", "labelFont": "Liberation Sans"}},
        "column": {"field": "c", "type": "nominal", "title": null, "sort": [".220", ".220.B8", ".220.B44"],
          "header": {"title": null, "labelOrient": "top", "labelFontSize": 27, "labelPadding": 47, "labelColor": "black", "labelFont": "Liberation Sans"}}
      },
      "spacing": {"row": 12.8, "column": 66.5},
      "spec": {
        "width": 302,
        "height": 53,
        "layer": [
          {
            "transform": [{"filter": "datum.r == 'Vektor' && datum.s == 'p'"}],
            "mark": {"type": "area", "color": "#c8c8c8", "opacity": 1},
            "encoding": {
              "x": {"field": "x", "type": "quantitative", "scale": {"type": "log", "domain": [0.92, 10870], "nice": false},
                "axis": {"orient": "bottom", "values": [1, 10, 100, 1000, 10000], "tickSize": 5, "tickColor": "black", "tickWidth": 1,
                  "domain": true, "domainColor": "black", "domainWidth": 1.5, "grid": false, "title": null,
                  "labelExpr": "'10' + ['⁰','¹','²','³','⁴'][round(log(datum.value)/LN10)]",
                  "labelFontSize": 13, "labelColor": "black", "labelPadding": 1, "labelFlush": false, "labelOverlap": false}},
              "y": {"field": "y", "type": "quantitative", "scale": {"domain": [0, 1], "nice": false}, "axis": null}
            }
          },
          {
            "transform": [{"filter": "datum.s == 'p'"}],
            "mark": {"type": "line", "color": "black", "strokeWidth": 1.1},
            "encoding": {
              "x": {"field": "x", "type": "quantitative", "scale": {"type": "log", "domain": [0.92, 10870], "nice": false},
                "axis": {"orient": "bottom", "values": [2,3,4,5,6,7,8,9,20,30,40,50,60,70,80,90,200,300,400,500,600,700,800,900,2000,3000,4000,5000,6000,7000,8000,9000],
                  "tickSize": 3, "tickColor": "black", "tickWidth": 1, "labels": false, "domain": false, "grid": false, "title": null}},
              "y": {"field": "y", "type": "quantitative", "scale": {"domain": [0, 1], "nice": false}, "axis": null}
            }
          },
          {
            "transform": [{"filter": "datum.s == 'n'"}],
            "mark": {"type": "line", "color": "black", "strokeWidth": 1.3, "strokeDash": [2, 2]},
            "encoding": {
              "x": {"field": "x", "type": "quantitative", "scale": {"type": "log", "domain": [0.92, 10870], "nice": false}, "axis": null},
              "y": {"field": "y", "type": "quantitative", "scale": {"domain": [0, 1], "nice": false}, "axis": null}
            }
          }
        ],
        "resolve": {"axis": {"x": "independent"}}
      }
    }
  ]
}
